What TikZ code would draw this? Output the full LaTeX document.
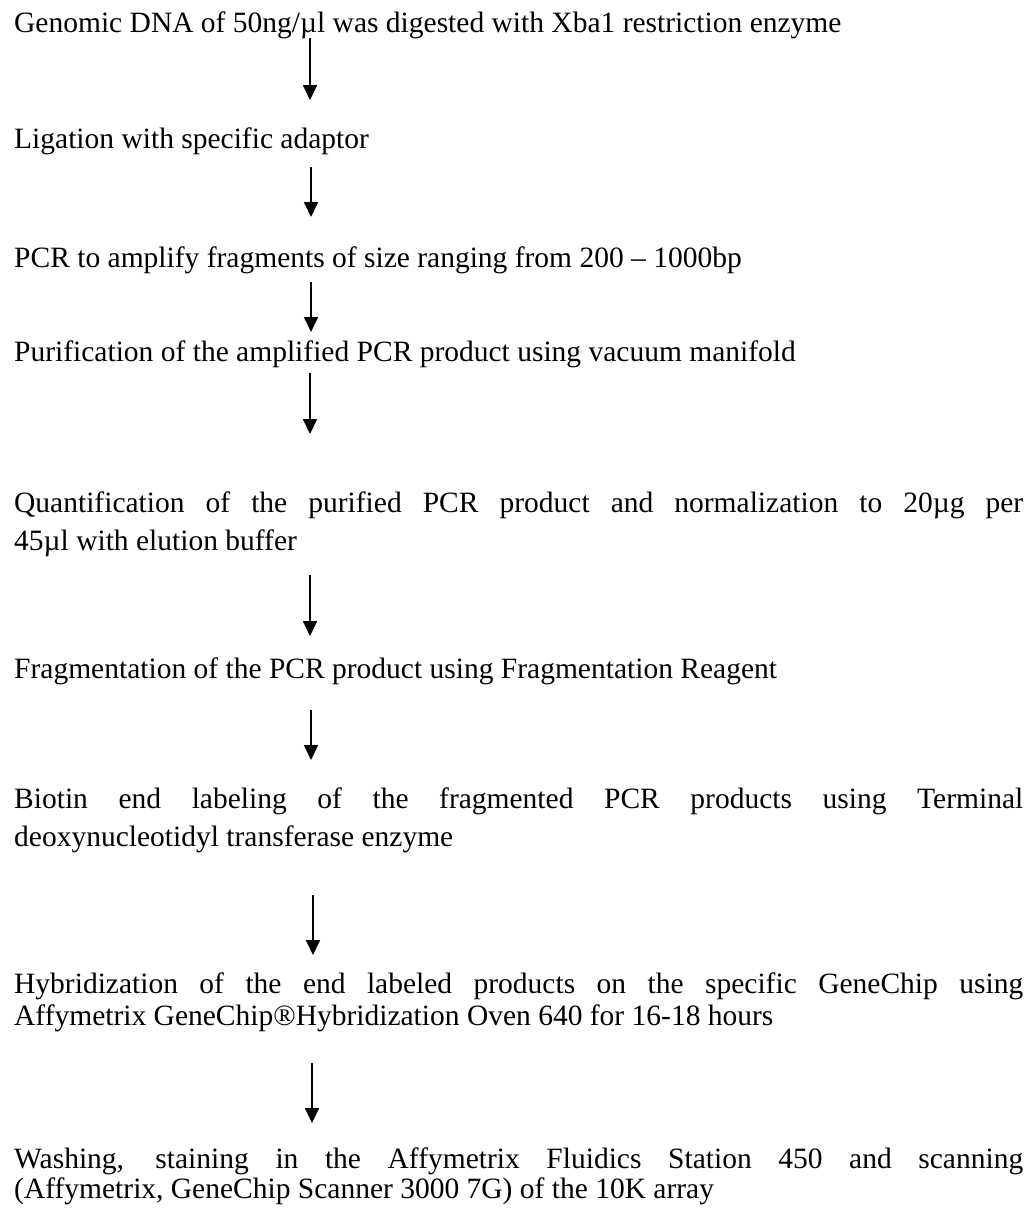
\documentclass[tikz,border=0pt]{standalone}
\usepackage{fontspec}
\setmainfont{Liberation Serif}
\usetikzlibrary{arrows.meta}
\newcommand\stepfont{\fontsize{29.5}{34}\selectfont}
\newcommand\jline[1]{\makebox[1009pt][s]{#1}}
\tikzset{
  txt/.style={anchor=base west, inner sep=0pt, font=\stepfont},
  arr/.style={-{Triangle[length=15pt,width=14pt]}, line width=1.8pt, shorten >=0pt}
}
\begin{document}
\begin{tikzpicture}[x=1pt,y=-1pt]
\useasboundingbox (0,0) rectangle (1036,1216);
\node[txt] (l1) at (14,32) {Genomic DNA of 50ng/µl was digested with Xba1 restriction enzyme};
\node[txt] (l2) at (14,148) {Ligation with specific adaptor};
\node[txt] (l3) at (14,267) {PCR to amplify fragments of size ranging from 200 – 1000bp};
\node[txt] (l4) at (14,361) {Purification of the amplified PCR product using vacuum manifold};
\node[txt] (l5a) at (14,512) {\jline{Quantification of the purified PCR product and normalization to 20µg per}};
\node[txt] (l5b) at (14,550) {45µl with elution buffer};
\node[txt] (l6) at (14,678) {Fragmentation of the PCR product using Fragmentation Reagent};
\node[txt] (l7a) at (14,808) {\jline{Biotin end labeling of the fragmented PCR products using Terminal}};
\node[txt] (l7b) at (14,846) {deoxynucleotidyl transferase enzyme};
\node[txt] (l8a) at (14,993) {\jline{Hybridization of the end labeled products on the specific GeneChip using}};
\node[txt] (l8b) at (14,1025) {Affymetrix GeneChip®Hybridization Oven 640 for 16-18 hours};
\node[txt] (l9a) at (14,1168) {\jline{Washing, staining in the Affymetrix Fluidics Station 450 and scanning}};
\node[txt] (l9b) at (14,1198) {(Affymetrix, GeneChip Scanner 3000 7G) of the 10K array};
% arrow end points
\coordinate (a1s) at (310,38);   \coordinate (a1e) at (310,100);
\coordinate (a2s) at (311,167);  \coordinate (a2e) at (311,217);
\coordinate (a3s) at (311,282);  \coordinate (a3e) at (311,332);
\coordinate (a4s) at (310,373);  \coordinate (a4e) at (310,434);
\coordinate (a5s) at (310,575);  \coordinate (a5e) at (310,636);
\coordinate (a6s) at (311,710);  \coordinate (a6e) at (311,760);
\coordinate (a7s) at (313,895);  \coordinate (a7e) at (313,955);
\coordinate (a8s) at (312,1063); \coordinate (a8e) at (312,1123);
\foreach \i in {1,...,8} \draw[arr] (a\i s) -- (a\i e);
\end{tikzpicture}
\end{document}
